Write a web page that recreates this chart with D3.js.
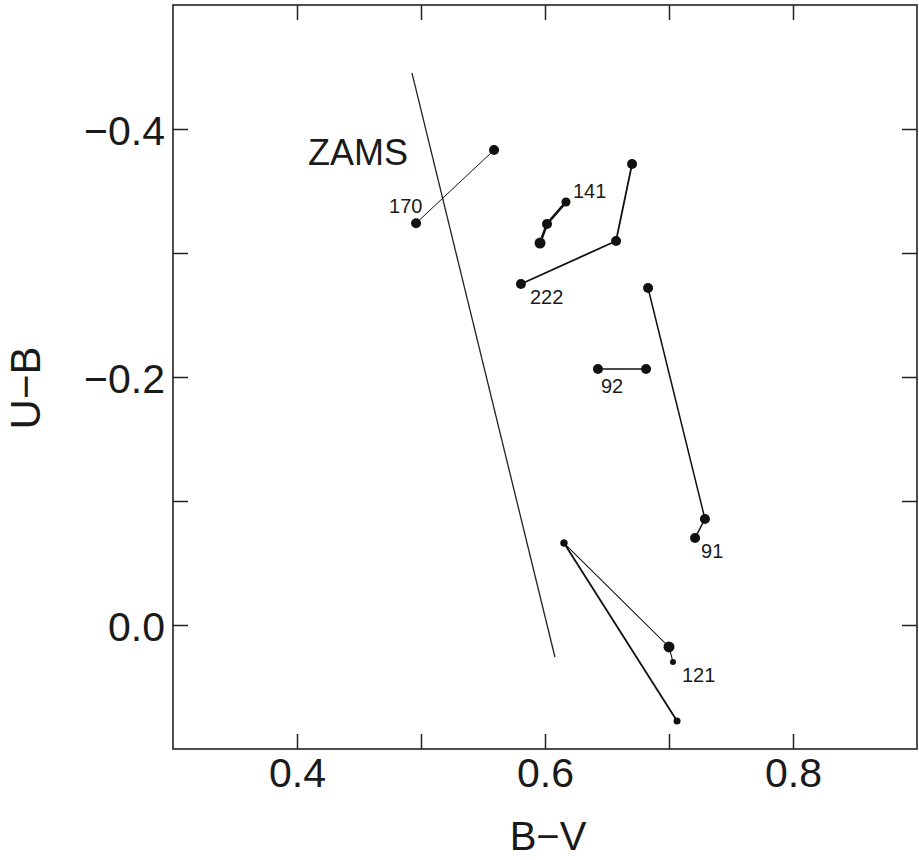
<!DOCTYPE html>
<html>
<head>
<meta charset="utf-8">
<script src="https://cdn.jsdelivr.net/npm/d3@7"></script>
<style>
  body { margin: 0; background: #fff; }
  text { font-family: "Liberation Sans", Arial, Helvetica, sans-serif; fill: #1a1a1a; }
</style>
</head>
<body>
<div id="chart"></div>
<script>
// B-V / U-B two-colour diagram

var xTicks = [0.4, 0.5, 0.6, 0.7, 0.8]
var xLabelled = [0.4, 0.6, 0.8]
var yTicks = [-0.4, -0.3, -0.2, -0.1, 0.0]
var yLabelled = [-0.4, -0.2, 0.0]

// ZAMS line endpoints [B-V, U-B]
var zams = [[0.4927, -0.4452], [0.608, 0.0258]]

// each star: list of [B-V, U-B] observations, joined in order
var star170 = [[0.496, -0.324], [0.5589, -0.383]]
var star141 = [[0.596, -0.308], [0.6016, -0.3234], [0.6169, -0.3411]]
var star222 = [[0.5806, -0.275], [0.6573, -0.3097], [0.6702, -0.3718]]
var star92 = [[0.6427, -0.2065], [0.6815, -0.2065]]
var star91 = [[0.6831, -0.2718], [0.729, -0.0855], [0.721, -0.0702]]
var star121a = [[0.6153, -0.0661], [0.700, 0.0177], [0.7032, 0.0298]]
var star121b = [[0.6153, -0.0661], [0.7065, 0.0774]]

var width = 919, height = 860
var svg = d3.select("#chart").append("svg")
    .attr("width", width)
    .attr("height", height)

var x = d3.scaleLinear().domain([0.3, 0.9]).range([173, 917])
var y = d3.scaleLinear().domain([-0.5, 0.1]).range([5, 749])
var fmt = d3.format(".1f")

// axes with inward ticks
var gx = svg.append("g").attr("transform", "translate(0,749)")
    .call(d3.axisBottom(x).tickValues(xTicks).tickSizeInner(-15).tickSizeOuter(0).tickPadding(9)
        .tickFormat(d => xLabelled.some(v => Math.abs(v - d) < 1e-9) ? fmt(d) : ""))
svg.append("g").attr("transform", "translate(0,5)")
    .call(d3.axisTop(x).tickValues(xTicks).tickSizeInner(-15).tickSizeOuter(0).tickFormat(""))
var gy = svg.append("g").attr("transform", "translate(173,0)")
    .call(d3.axisLeft(y).tickValues(yTicks).tickSizeInner(-15).tickSizeOuter(0).tickPadding(8)
        .tickFormat(d => yLabelled.some(v => Math.abs(v - d) < 1e-9) ? fmt(d) : ""))
svg.append("g").attr("transform", "translate(917,0)")
    .call(d3.axisRight(y).tickValues(yTicks).tickSizeInner(-15).tickSizeOuter(0).tickFormat(""))

svg.selectAll(".domain").remove()
svg.selectAll(".tick line").attr("stroke", "#222").attr("stroke-width", 1.5)
svg.selectAll(".tick text").style("font-size", "41px").attr("fill", "#1a1a1a")
    .style("font-family", "'Liberation Sans', Arial, sans-serif")
gy.selectAll(".tick text").attr("dy", "0.38em")

svg.append("rect")
    .attr("x", x(0.3)).attr("y", y(-0.5))
    .attr("width", x(0.9) - x(0.3)).attr("height", y(0.1) - y(-0.5))
    .attr("fill", "none").attr("stroke", "#222").attr("stroke-width", 1.6)

// axis titles
svg.append("text").attr("x", 548).attr("y", 850)
    .attr("text-anchor", "middle").style("font-size", "40px").attr("fill", "#444")
    .text("B\u2212V")
svg.append("text").attr("transform", "translate(40,388) rotate(-90)")
    .attr("text-anchor", "middle").style("font-size", "42px")
    .text("U\u2212B")

var line = d3.line().x(d => x(d[0])).y(d => y(d[1]))

// ZAMS
svg.append("path").datum(zams).attr("d", line)
    .attr("fill", "none").attr("stroke", "#222").attr("stroke-width", 1.3)
svg.append("text").attr("x", x(zams[0][0]) - 104).attr("y", y(zams[0][1]) + 92)
    .style("font-size", "36px").text("ZAMS")

function track(pts, lw, radii) {
    svg.append("path").datum(pts).attr("d", line)
        .attr("fill", "none").attr("stroke", "#111").attr("stroke-width", lw)
    svg.selectAll(null).data(pts).enter().append("circle")
        .attr("cx", d => x(d[0])).attr("cy", d => y(d[1]))
        .attr("r", (d, i) => radii[i]).attr("fill", "#111")
}
function label(pt, txt, dx, dy) {
    svg.append("text").attr("x", x(pt[0]) + dx).attr("y", y(pt[1]) + dy)
        .style("font-size", "20px").text(txt)
}

track(star170, 1, [5, 5])
label(star170[0], "170", -27, -10)

track(star141, 2.6, [5.5, 5, 4.5])
label(star141[2], "141", 7, -4)

track(star222, 1.8, [5, 5, 5])
label(star222[0], "222", 9, 20)

track(star92, 1.6, [5, 5])
label(star92[0], "92", 3, 24)

track(star91, 1.5, [5, 5, 5])
label(star91[2], "91", 6, 20)

track(star121b, 1.8, [3.5, 3.5])
track(star121a, 1.1, [3.5, 5.5, 3])
label(star121a[2], "121", 9, 20)
</script>
</body>
</html>
